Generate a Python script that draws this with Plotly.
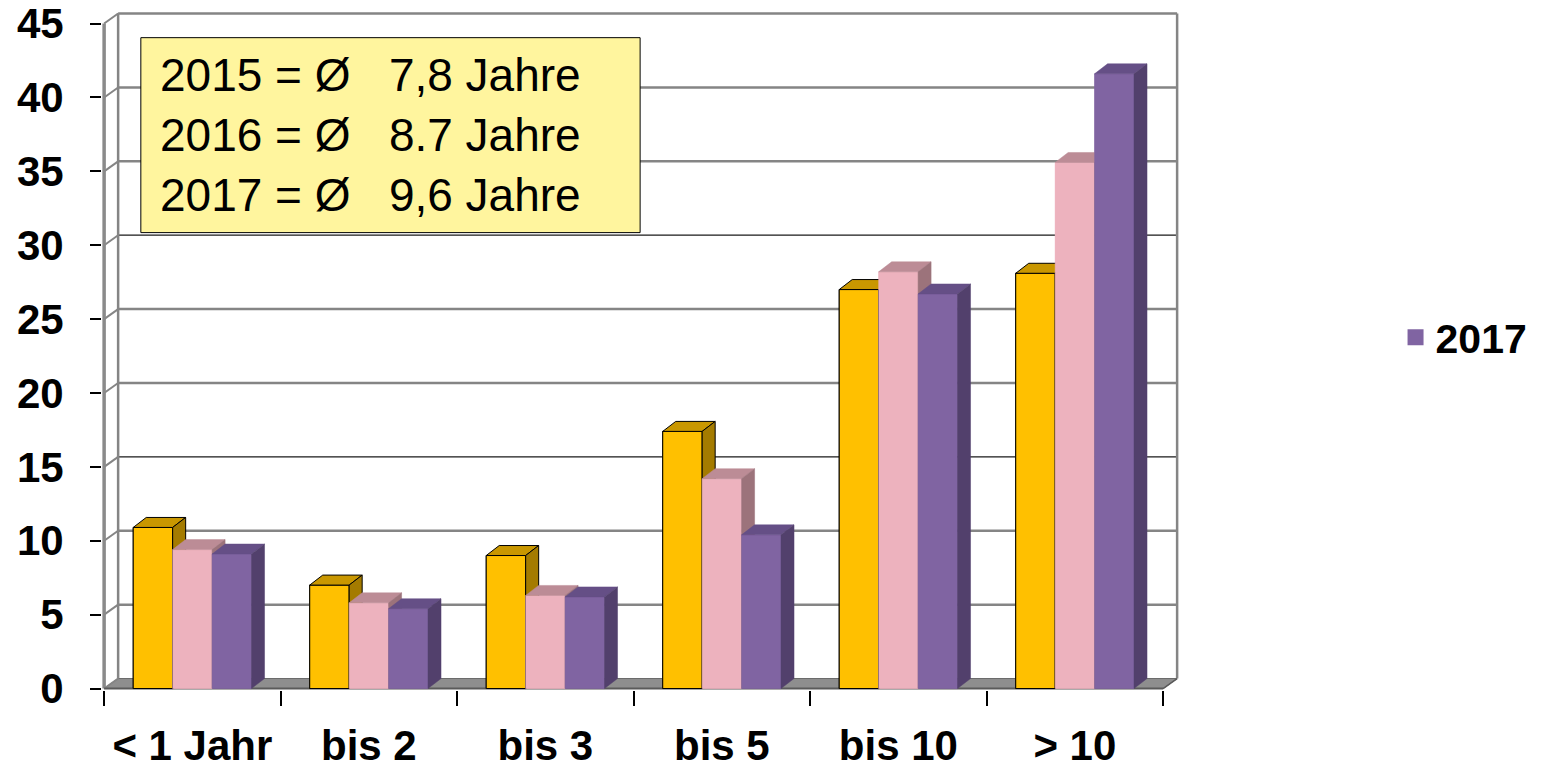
import plotly.graph_objects as go

# ---------------- data ----------------
categories = ["< 1 Jahr", "bis 2", "bis 3", "bis 5", "bis 10", "> 10"]
series_names = ["2015", "2016", "2017"]
values_2015 = [10.9, 7.0, 9.0, 17.4, 27.0, 28.1]
values_2016 = [9.4, 5.8, 6.3, 14.2, 28.2, 35.6]
values_2017 = [9.1, 5.4, 6.2, 10.4, 26.7, 41.6]
y_tick_values = [0, 5, 10, 15, 20, 25, 30, 35, 40, 45]
box_lines = ["2015 = Ø\u00a0\u00a0\u00a07,8 Jahre",
             "2016 = Ø\u00a0\u00a0\u00a08.7 Jahre",
             "2017 = Ø\u00a0\u00a0\u00a09,6 Jahre"]
legend_series = "2017"

# ---------------- style ----------------
OFF = 8                       # page body margin of the html page
W_FIG, H_FIG = 1550 - OFF, 768 - OFF
PX_X = 176.4        # px per category
PX_Y = 14.78        # px per value unit
X0, X1 = -0.512, 5.59
Y0, Y1 = -0.1, 45.85
L = 104.3 - OFF + (X0 + 0.5) * PX_X
PW = (X1 - X0) * PX_X
R = W_FIG - L - PW
BOT = 689 - OFF + (0 - Y0) * PX_Y          # pixel row of plot bottom (figure coords)
PH = (Y1 - Y0) * PX_Y
B = H_FIG - BOT
T = H_FIG - B - PH

DX = 14 / PX_X      # depth offset (wall)
DY = 10 / PX_Y
BDX = 13 / PX_X     # depth offset (bars)
BDY = 10 / PX_Y
BAR_W = 0.2234

FONT = "Liberation Sans, Arial, sans-serif"
colors = {
    "2015": dict(front="#FFC000", top="#C99700", side="#A47B00", line="#000000", lw=1),
    "2016": dict(front="#EDB2BE", top="#BC8C96", side="#9C737B", line="#EDB2BE", lw=0),
    "2017": dict(front="#8064A2", top="#654F86", side="#52406C", line="#8064A2", lw=0),
}
series_values = {"2015": values_2015, "2016": values_2016, "2017": values_2017}


def px_to_paper_x(px):
    return (px - OFF - L) / PW


def px_to_paper_y(py):
    return (BOT - (py - OFF)) / PH


fig = go.Figure()

# front faces as real bars
for j, name in enumerate(series_names):
    vals = series_values[name]
    xs = [i + (j - 1) * BAR_W for i in range(len(categories))]
    c = colors[name]
    fig.add_trace(go.Bar(
        x=xs, y=vals, width=BAR_W, name=name, showlegend=False,
        marker=dict(color=c["front"], line=dict(color=c["line"], width=c["lw"])),
        hoverinfo="skip"))

# 3D faces (painter order: series by series, front/top/side)
for j, name in enumerate(series_names):
    vals = series_values[name]
    c = colors[name]
    faces = {"front": ([], []), "top": ([], []), "side": ([], [])}
    for i, v in enumerate(vals):
        xl = i + (j - 1) * BAR_W - BAR_W / 2
        xr = xl + BAR_W
        polys = {
            "front": [(xl, 0), (xr, 0), (xr, v), (xl, v)],
            "top": [(xl, v), (xr, v), (xr + BDX, v + BDY), (xl + BDX, v + BDY)],
            "side": [(xr, 0), (xr + BDX, BDY), (xr + BDX, v + BDY), (xr, v)],
        }
        for k, poly in polys.items():
            fx, fy = faces[k]
            for (px, py) in poly + [poly[0]]:
                fx.append(px)
                fy.append(py)
            fx.append(None)
            fy.append(None)
    for k in ["front", "top", "side"]:
        fx, fy = faces[k]
        fig.add_trace(go.Scatter(
            x=fx, y=fy, mode="lines", fill="toself", fillcolor=c[k],
            line=dict(color=c["line"] if c["lw"] else c[k], width=c["lw"] if c["lw"] else 0.5),
            showlegend=False, hoverinfo="skip"))

# legend entry
fig.add_trace(go.Scatter(
    x=[None], y=[None], mode="markers", name=legend_series,
    marker=dict(symbol="square", size=24, color=colors[legend_series]["front"]),
    showlegend=True))

# ---------------- walls, floor, grid (shapes below traces) ----------------
shapes = []
GRID = "#858585"
xb0, xb1 = -0.5 + DX, 5.5 + DX
# floor
shapes.append(dict(type="path", xref="x", yref="y", layer="below",
                   path=f"M {-0.5},0 L 5.5,0 L {xb1},{DY} L {xb0},{DY} Z",
                   fillcolor="#8E8E8E", line=dict(color="#6A6A6A", width=1)))
for v in y_tick_values:
    dark = v in (15, 30)
    col = "#1A1A1A" if dark else GRID
    wd = 1.3 if dark else 2.5
    if v > 0:
        shapes.append(dict(type="line", xref="x", yref="y", layer="below",
                           x0=xb0, y0=v + DY, x1=xb1, y1=v + DY,
                           line=dict(color=col, width=wd)))
    shapes.append(dict(type="line", xref="x", yref="y", layer="below",
                       x0=-0.5, y0=v, x1=xb0, y1=v + DY,
                       line=dict(color=GRID, width=2)))
# left wall back edge, right edge
shapes.append(dict(type="line", xref="x", yref="y", layer="below",
                   x0=xb0, y0=DY, x1=xb0, y1=45 + DY, line=dict(color=GRID, width=2.5)))
shapes.append(dict(type="line", xref="x", yref="y", layer="below",
                   x0=xb1, y0=DY, x1=xb1, y1=45 + DY, line=dict(color=GRID, width=2.5)))
# left wall front edge (axis line)
shapes.append(dict(type="line", xref="x", yref="y", layer="below",
                   x0=-0.5, y0=0, x1=-0.5, y1=45, line=dict(color="#8A8A8A", width=3.5)))
# floor front edge and right edge
shapes.append(dict(type="line", xref="x", yref="y", layer="below",
                   x0=-0.5, y0=0, x1=5.5, y1=0, line=dict(color="#5A5A5A", width=2)))
shapes.append(dict(type="line", xref="x", yref="y", layer="below",
                   x0=5.5, y0=0, x1=xb1, y1=DY, line=dict(color="#5A5A5A", width=1.5)))

# text box
shapes.append(dict(type="rect", xref="paper", yref="paper", layer="above",
                   x0=px_to_paper_x(141), x1=px_to_paper_x(640),
                   y0=px_to_paper_y(233), y1=px_to_paper_y(38),
                   fillcolor="#FFF59E", line=dict(color="#000000", width=1)))

fig.update_layout(
    template="none",
    width=W_FIG, height=H_FIG,
    margin=dict(l=L, r=R, t=T, b=B, pad=0, autoexpand=False),
    paper_bgcolor="white", plot_bgcolor="white",
    barmode="overlay",
    shapes=shapes,
    font=dict(family=FONT, color="black"),
    legend=dict(x=px_to_paper_x(1395), y=px_to_paper_y(338), xanchor="left", yanchor="middle",
                font=dict(family=FONT, size=41, color="black", weight="bold"),
                bgcolor="rgba(0,0,0,0)", itemsizing="trace"),
    annotations=[dict(
        xref="paper", yref="paper", x=px_to_paper_x(158), y=px_to_paper_y(135.5),
        xanchor="left", yanchor="middle", align="left", showarrow=False,
        text="<br>".join(box_lines),
        font=dict(family=FONT, size=46, color="black"))],
    xaxis=dict(
        range=[X0, X1], showgrid=False, zeroline=False, showline=False, automargin=False,
        tickmode="array", tickvals=list(range(len(categories))), ticktext=categories,
        ticks="outside", ticklen=19, tickcolor="rgba(0,0,0,0)",
        ticklabeloverflow="allow",
        tickfont=dict(family=FONT, size=42, color="black", weight="bold"),
        minor=dict(tick0=-0.5, dtick=1, ticks="outside", ticklen=15, tickwidth=2,
                   tickcolor="black", showgrid=False),
        fixedrange=True),
    yaxis=dict(
        range=[Y0, Y1], showgrid=False, zeroline=False, showline=False, automargin=False,
        tickmode="array", tickvals=y_tick_values,
        ticks="outside", ticklen=11, tickwidth=2, tickcolor="black",
        ticklabelstandoff=18, ticklabeloverflow="allow",
        tickfont=dict(family=FONT, size=42, color="black", weight="bold"),
        fixedrange=True),
)

fig.write_html("out.html")
